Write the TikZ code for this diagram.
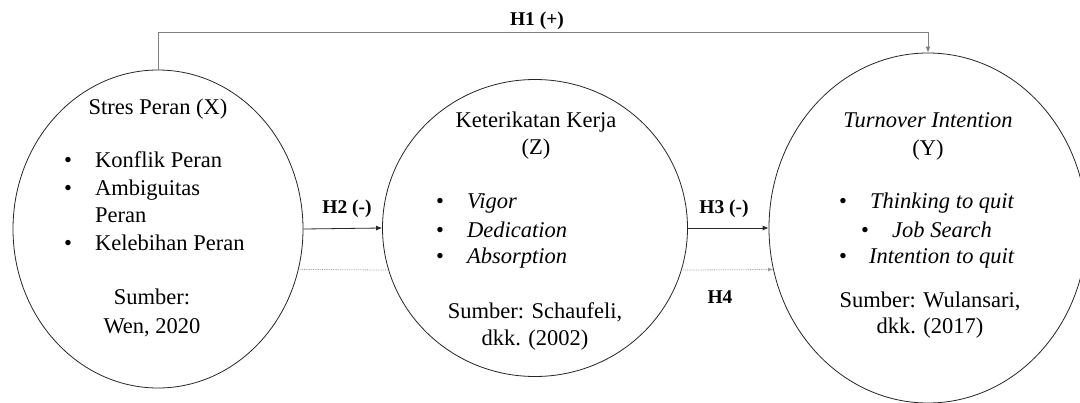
\documentclass[tikz,border=0pt]{standalone}
\usepackage{fontspec}
\setmainfont{Liberation Serif}
\usetikzlibrary{shapes.geometric,arrows.meta}
\begin{document}
\begin{tikzpicture}[x=1pt,y=-1pt,
 var/.style={ellipse,draw=black!85,line width=0.8pt,fill=white,inner sep=0pt},
 txt/.style={anchor=base,inner sep=0pt,font=\fontsize{22.5}{27}\selectfont},
 itm/.style={anchor=base west,inner sep=0pt,font=\fontsize{22.5}{27}\selectfont},
 bul/.style={anchor=base,inner sep=0pt,font=\fontsize{22.5}{27}\selectfont},
 hyp/.style={anchor=base,inner sep=0pt,font=\fontsize{19.5}{23}\selectfont\bfseries},
 arr/.style={line width=0.8pt,draw=black!85,-{Latex[length=6pt,width=5pt]}},
 garr/.style={line width=0.8pt,draw=black!50,-{Latex[length=6pt,width=5pt]}},
 dotl/.style={line width=0.8pt,draw=black!40,densely dotted},
 ]
\useasboundingbox (0,0) rectangle (1080,402);
% ellipses
\node[var,minimum width=290pt,minimum height=318pt] (X) at (158,229) {};
\node[var,minimum width=305pt,minimum height=297pt] (Z) at (535,228) {};
\node[var,minimum width=318pt,minimum height=350pt] (Y) at (928,228) {};
% X text
\node[txt] (xt) at (158,114) {Stres Peran (X)};
\node[bul] (xb1) at (68,167) {•};
\node[itm] (xi1) at (95,167) {Konflik Peran};
\node[bul] (xb2) at (68,195) {•};
\node[itm] (xi2) at (95,195) {Ambiguitas};
\node[itm] (xi2b) at (95,222) {Peran};
\node[bul] (xb3) at (68,250) {•};
\node[itm] (xi3) at (95,250) {Kelebihan Peran};
\node[txt] (xs1) at (152,304) {Sumber:};
\node[txt] (xs2) at (152,333) {Wen, 2020};
% Z text
\node[txt] (zt1) at (536,127) {Keterikatan Kerja};
\node[txt] (zt2) at (536,154) {(Z)};
\node[bul] (zb1) at (440,208) {•};
\node[itm] (zi1) at (467,208) {\itshape Vigor};
\node[bul] (zb2) at (440,237) {•};
\node[itm] (zi2) at (467,237) {\itshape Dedication};
\node[bul] (zb3) at (440,263) {•};
\node[itm] (zi3) at (467,263) {\itshape Absorption};
\node[txt] (zs1) at (535,318) {Sumber: Schaufeli,};
\node[txt] (zs2) at (535,345) {dkk. (2002)};
% Y text
\node[txt] (yt1) at (928,127) {\itshape Turnover Intention};
\node[txt] (yt2) at (928,155) {(Y)};
\node[bul] (yb1) at (843,208) {•};
\node[itm] (yi1) at (870,208) {\itshape Thinking to quit};
\node[bul] (yb2) at (865,237) {•};
\node[itm] (yi2) at (892,237) {\itshape Job Search};
\node[bul] (yb3) at (843,263) {•};
\node[itm] (yi3) at (869,263) {\itshape Intention to quit};
\node[txt] (ys1) at (930,307) {Sumber: Wulansari,};
\node[txt] (ys2) at (930,333) {dkk. (2017)};
% connectors
\draw[garr] (X.north) -- ++(0,-37) -| (Y.north);
\draw[arr] (X.east) -- (Z.west);
\draw[arr] (Z.east) -- (Y.west);
\draw[dotl] (X.-16.7) -- (Z.196.4);
\draw[dotl,-{Latex[length=5pt,width=4pt]}] (Z.-16.4) -- (Y.195.6);
% labels
\node[hyp] (h1) at (537,25) {H1 (+)};
\node[hyp] (h2) at (347,213) {H2 (-)};
\node[hyp] (h3) at (724,213) {H3 (-)};
\node[hyp] (h4) at (720,303) {H4};
\end{tikzpicture}
\end{document}
